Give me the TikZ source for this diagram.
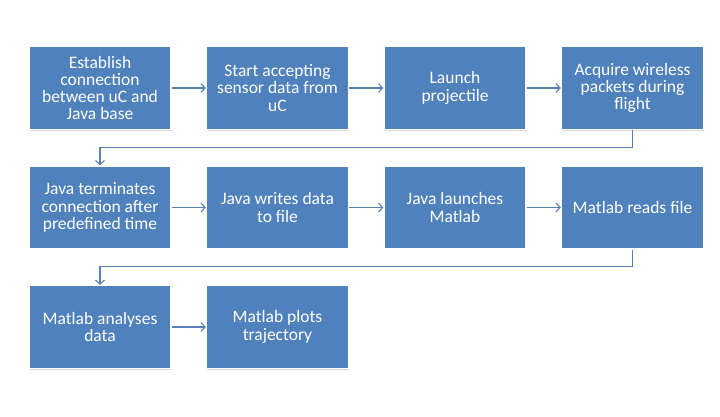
\documentclass[tikz,border=0pt]{standalone}
\usepackage{fontspec}
\setmainfont{Carlito}
\usepackage{tikz}
\usetikzlibrary{arrows.meta,shadows}
\usetikzlibrary{positioning}
\definecolor{boxblue}{RGB}{79,129,189}
\definecolor{lineblue}{RGB}{88,128,182}
\tikzset{
  stepbox/.style={
    rectangle,
    fill=boxblue,
    draw=white, line width=1.5pt,
    drop shadow={opacity=0.3, shadow xshift=0.6pt, shadow yshift=-1.2pt},
    minimum width=142pt,
    minimum height=83pt,
    inner sep=2pt,
    text=white,
    align=center,
    font=\fontsize{17.5}{17.3}\selectfont,
  },
  flow/.style={
    draw=lineblue, line width=1.1pt,
    -{Straight Barb[length=4pt,width=9pt]},
  },
}

\begin{document}
\begin{tikzpicture}
  \useasboundingbox (0pt,0pt) rectangle (720pt,-417pt);
  % first row
  \node[stepbox] (est) at (100pt,-88pt) {Establish\\connection\\between uC and\\Java base};
  \node[stepbox, right=34pt of est] (start) {Start accepting\\sensor data from\\uC};
  \node[stepbox, right=34pt of start] (launch) {Launch\\projectile};
  \node[stepbox, right=34pt of launch] (acquire) {Acquire wireless\\packets during\\flight};
  % second row
  \node[stepbox, below=35pt of est] (term) {Java terminates\\connection after\\predefined time};
  \node[stepbox, right=34pt of term] (write) {Java writes data\\to file};
  \node[stepbox, right=34pt of write] (launchm) {Java launches\\Matlab};
  \node[stepbox, right=34pt of launchm] (reads) {Matlab reads file};
  % third row
  \node[stepbox, below=35pt of term] (analyse) {Matlab analyses\\data};
  \node[stepbox, right=34pt of analyse] (plots) {Matlab plots\\trajectory};

  \draw[flow] (est) -- (start);
  \draw[flow] (start) -- (launch);
  \draw[flow] (launch) -- (acquire);
  \draw[flow] (acquire.south) -- ++(0,-17pt) -| (term.north);
  \draw[flow] (term) -- (write);
  \draw[flow] (write) -- (launchm);
  \draw[flow] (launchm) -- (reads);
  \draw[flow] (reads.south) -- ++(0,-17pt) -| (analyse.north);
  \draw[flow] (analyse) -- (plots);
\end{tikzpicture}
\end{document}
